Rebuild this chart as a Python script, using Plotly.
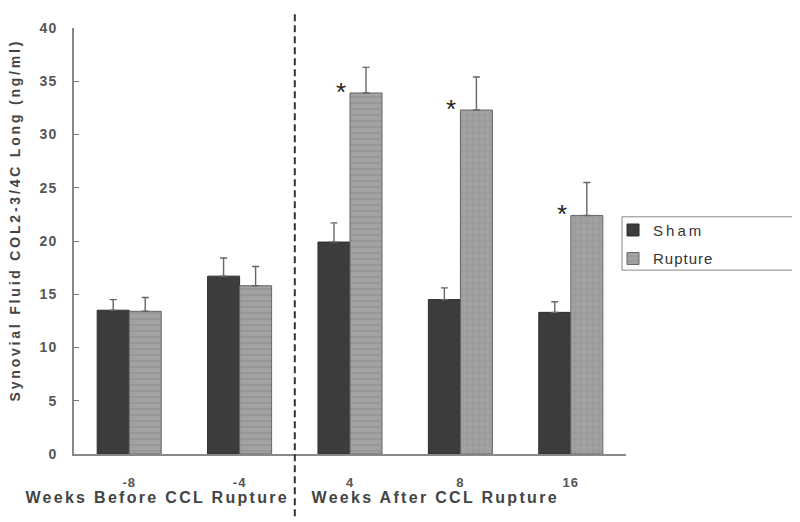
import plotly.graph_objects as go

weeks = ['-8', '-4', '4', '8', '16']
sham = [13.5, 16.7, 19.9, 14.5, 13.3]
sham_err = [1.0, 1.7, 1.8, 1.1, 1.0]
rupture = [13.4, 15.8, 33.9, 32.3, 22.4]
rupture_err = [1.3, 1.8, 2.4, 3.1, 3.1]
significant = [False, False, True, True, True]

FONT = 'Liberation Sans, Arial, sans-serif'

fig = go.Figure()

fig.add_trace(go.Bar(
    x=weeks, y=sham, name='Sham', legendgroup='sham',
    marker=dict(color='#3c3c3c', line=dict(color='#2e2e2e', width=1)),
    error_y=dict(type='data', array=sham_err, arrayminus=[0] * len(sham),
                 symmetric=False, color='#666666', thickness=1.4, width=3.5),
))
fig.add_trace(go.Bar(
    x=weeks, y=rupture, name='Rupture', legendgroup='rupture',
    marker=dict(color='#9c9c9c', line=dict(color='#666666', width=1),
                pattern=dict(shape=['-', '-', '-', '+', '+'], bgcolor='#a2a2a2',
                             fgcolor='#858585', size=6, solidity=0.25)),
    error_y=dict(type='data', array=rupture_err, arrayminus=[0] * len(rupture),
                 symmetric=False, color='#666666', thickness=1.4, width=3.5),
))

# significance stars next to rupture bars
for i, val in enumerate(rupture):
    if significant[i]:
        fig.add_annotation(x=i, y=val, xref='x', yref='y', text='*', showarrow=False,
                           xshift=-9, yshift=1, xanchor='center', yanchor='middle',
                           font=dict(family=FONT, size=26, color='#222222'))

# dashed separator between before / after rupture
fig.add_shape(type='line', xref='x', yref='paper', x0=1.5, x1=1.5, y0=-0.146, y1=1.04,
              line=dict(color='#333333', width=2, dash='7px,4px'))

# legend frame
fig.add_shape(type='rect', xref='paper', yref='paper', x0=0.9928, x1=1.3025, y0=0.4316, y1=0.5568,
              line=dict(color='#888888', width=1), fillcolor='rgba(0,0,0,0)')

fig.add_annotation(xref='paper', yref='paper', x=0.150, y=-0.103, text='Weeks Before CCL Rupture',
                   showarrow=False, xanchor='center', yanchor='middle',
                   font=dict(family=FONT, size=16, color='#444444', weight='bold'))
fig.add_annotation(xref='paper', yref='paper', x=0.654, y=-0.103, text='Weeks After CCL Rupture',
                   showarrow=False, xanchor='center', yanchor='middle',
                   font=dict(family=FONT, size=16, color='#444444', weight='bold'))

fig.add_annotation(xref='paper', yref='paper', x=-0.107, y=0.55,
                   text='Synovial Fluid COL2-3/4C Long (ng/ml)', textangle=-90,
                   showarrow=False, xanchor='center', yanchor='middle',
                   font=dict(family=FONT, size=14, color='#444444', weight='bold'))

fig.update_layout(
    width=800, height=522,
    margin=dict(l=66, r=182, t=15, b=76),
    paper_bgcolor='white', plot_bgcolor='white',
    barmode='group', bargap=0.42, bargroupgap=0,
    font=dict(family=FONT, color='#555555'),
    showlegend=True,
    legend=dict(x=0.9765, y=0.564, xanchor='left', yanchor='top',
                borderwidth=0, bgcolor='rgba(0,0,0,0)',
                font=dict(family=FONT, size=15, color='#333333'),
                tracegroupgap=6),
    xaxis=dict(type='category', showline=True, linecolor='#888888', linewidth=2,
               ticks='', showgrid=False, ticklabelstandoff=15,
               tickfont=dict(family=FONT, size=13, color='#555555', weight='bold')),
    yaxis=dict(range=[0, 40], dtick=5, showline=True, linecolor='#888888', linewidth=2,
               ticks='inside', ticklen=5, tickwidth=1, tickcolor='#777777',
               showgrid=False, zeroline=False, ticklabelstandoff=12,
               tickfont=dict(family=FONT, size=14, color='#555555', weight='bold')),
)

# the original figure uses widely spaced lettering
letter_spacing = """
var st = document.createElement('style');
st.textContent =
  '.annotation-text{letter-spacing:2.3px}' +
  '.annotation-text[data-unformatted="*"]{letter-spacing:0}' +
  '.annotation-text[data-unformatted^="Synovial"]{letter-spacing:2.8px}' +
  '.legendtext{letter-spacing:1px}' +
  '.legendtext[data-unformatted="Sham"]{letter-spacing:3px}' +
  '.xtick text,.ytick text{letter-spacing:1px}';
document.head.appendChild(st);
"""

fig.write_html("out.html", post_script=letter_spacing)
